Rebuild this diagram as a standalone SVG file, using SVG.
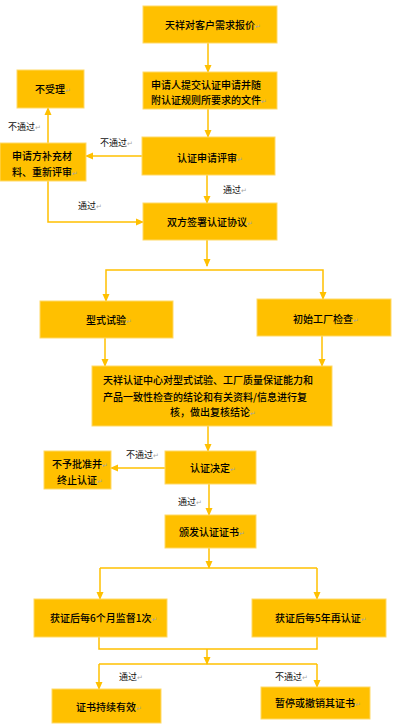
<svg xmlns="http://www.w3.org/2000/svg" width="417" height="727" viewBox="0 0 417 727">
<defs>
<style>
.box{fill:#FFC000;stroke:#FFD966;stroke-width:1}
.t{font-family:"Noto Sans CJK SC","Noto Sans",sans-serif;font-size:10px;font-weight:500;fill:#000}
.l{font-family:"Noto Sans CJK SC","Noto Sans",sans-serif;font-size:9px;fill:#111}
.r{fill:#A6A6A6;font-family:"DejaVu Sans",sans-serif;font-size:7px;font-weight:normal}
.c{fill:none;stroke:#FFC000;stroke-width:1.5}
.ca{fill:none;stroke:#FFC000;stroke-width:1.5;marker-end:url(#ah)}
</style>
<marker id="ah" markerUnits="userSpaceOnUse" markerWidth="8" markerHeight="8" viewBox="0 0 8 8" refX="7" refY="4" orient="auto">
<path d="M0,0.5 L8,4 L0,7.5 Z" fill="#FFC000"/>
</marker>
</defs>
<rect width="417" height="727" fill="#FFFFFF"/>
<g id="connectors">
<path class="ca" d="M208,43 V72"/>
<path class="ca" d="M208,109 V137"/>
<path class="ca" d="M142,156 H86"/>
<path class="ca" d="M48,143 V108"/>
<path class="ca" d="M207,175 V203"/>
<path class="ca" d="M48,181 V222 H143"/>
<path class="ca" d="M207,240 V266"/>
<path class="ca" d="M207,270 H106 V301"/>
<path class="ca" d="M207,270 H323 V299"/>
<path class="ca" d="M105,338 V366"/>
<path class="ca" d="M322,336 V366"/>
<path class="ca" d="M208,426 V451"/>
<path class="ca" d="M165,468 H111"/>
<path class="ca" d="M209,484 V515"/>
<path class="ca" d="M209,548 V568"/>
<path class="c" d="M100,568 H317"/>
<path class="ca" d="M100,568 V599"/>
<path class="ca" d="M317,568 V599"/>
<path class="c" d="M99,637 V649 H317 V637"/>
<path class="ca" d="M207,649 V664"/>
<path class="c" d="M99,664 H317"/>
<path class="ca" d="M99,664 V689"/>
<path class="ca" d="M317,664 V687"/>
</g>
<g id="labels">
<text class="l" x="8" y="130">不通过<tspan class="r">↵</tspan></text>
<text class="l" x="100" y="146">不通过<tspan class="r">↵</tspan></text>
<text class="l" x="223" y="193">通过<tspan class="r">↵</tspan></text>
<text class="l" x="78" y="209">通过<tspan class="r">↵</tspan></text>
<text class="l" x="126" y="458">不通过<tspan class="r">↵</tspan></text>
<text class="l" x="178" y="505">通过<tspan class="r">↵</tspan></text>
<text class="l" x="119" y="680">通过<tspan class="r">↵</tspan></text>
<text class="l" x="275" y="680">不通过<tspan class="r">↵</tspan></text>
</g>
<g id="n1"><rect class="box" x="143" y="6" width="134" height="37"/><text class="t" x="165" y="29">天祥对客户需求报价<tspan class="r">↵</tspan></text></g>
<g id="n2"><rect class="box" x="143" y="72" width="134" height="37"/><text class="t" x="151" y="88.5">申请人提交认证申请并随</text><text class="t" x="151" y="104">附认证规则所要求的文件<tspan class="r">↵</tspan></text></g>
<g id="n3"><rect class="box" x="17" y="70" width="67" height="38"/><text class="t" x="35" y="92.5">不受理<tspan class="r">↵</tspan></text></g>
<g id="n4"><rect class="box" x="0" y="143" width="86" height="38"/><text class="t" x="12" y="159.5">申请方补充材</text><text class="t" x="12" y="175.5">料、重新评审<tspan class="r">↵</tspan></text></g>
<g id="n5"><rect class="box" x="142" y="137" width="133" height="38"/><text class="t" x="177" y="161.5">认证申请评审<tspan class="r">↵</tspan></text></g>
<g id="n6"><rect class="box" x="143" y="203" width="134" height="37"/><text class="t" x="167" y="225.5">双方签署认证协议<tspan class="r">↵</tspan></text></g>
<g id="n7"><rect class="box" x="40" y="301" width="133" height="37"/><text class="t" x="86" y="323.5">型式试验<tspan class="r">↵</tspan></text></g>
<g id="n8"><rect class="box" x="257" y="299" width="134" height="37"/><text class="t" x="293" y="322.5">初始工厂检查<tspan class="r">↵</tspan></text></g>
<g id="n9"><rect class="box" x="92" y="366" width="240" height="60"/><text class="t" x="103" y="383.5">天祥认证中心对型式试验、工厂质量保证能力和</text><text class="t" x="103" y="400.5">产品一致性检查的结论和有关资料/信息进行复</text><text class="t" x="170" y="415.5">核，做出复核结论<tspan class="r">↵</tspan></text></g>
<g id="n10"><rect class="box" x="165" y="451" width="91" height="33"/><text class="t" x="190" y="471.5">认证决定<tspan class="r">↵</tspan></text></g>
<g id="n11"><rect class="box" x="44" y="451" width="67" height="38"/><text class="t" x="52" y="467.5">不予批准并<tspan class="r">↵</tspan></text><text class="t" x="57" y="483.5">终止认证<tspan class="r">↵</tspan></text></g>
<g id="n12"><rect class="box" x="165" y="515" width="91" height="33"/><text class="t" x="179" y="535.5">颁发认证证书<tspan class="r">↵</tspan></text></g>
<g id="n13"><rect class="box" x="34" y="599" width="133" height="38"/><text class="t" x="50" y="621.5">获证后每6个月监督1次<tspan class="r">↵</tspan></text></g>
<g id="n14"><rect class="box" x="252" y="599" width="134" height="38"/><text class="t" x="275" y="621.5">获证后每5年再认证<tspan class="r">↵</tspan></text></g>
<g id="n15"><rect class="box" x="52" y="689" width="109" height="34"/><text class="t" x="76" y="710.5">证书持续有效<tspan class="r">↵</tspan></text></g>
<g id="n16"><rect class="box" x="261" y="687" width="109" height="32"/><text class="t" x="275" y="706.5">暂停或撤销其证书<tspan class="r">↵</tspan></text></g>
</svg>
